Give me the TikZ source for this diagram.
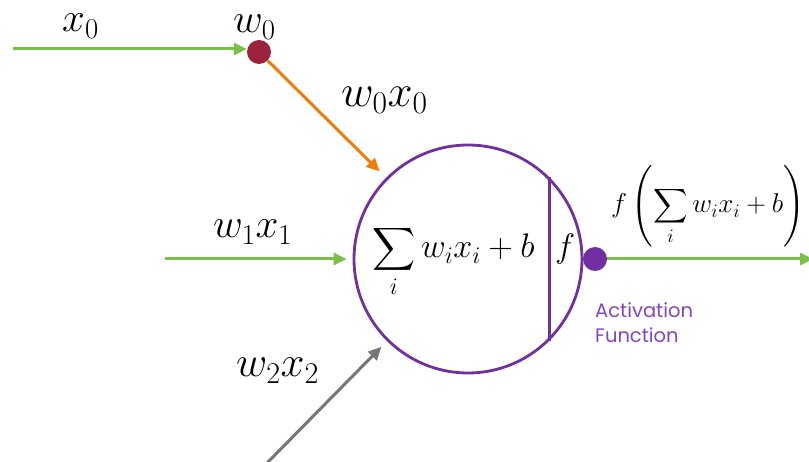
\RequirePackage{fix-cm}
\documentclass[tikz,border=0pt]{standalone}
\usepackage{amsmath}
\DeclareFontShape{OMX}{cmex}{m}{n}{<->cmex10}{}
\usepackage{fontspec}
\newfontfamily\actfont{Poppins}
\usetikzlibrary{arrows.meta}
\definecolor{purp}{RGB}{112,48,160}
\definecolor{actpurp}{RGB}{130,70,190}
\definecolor{grn}{RGB}{122,192,72}
\definecolor{maroon}{RGB}{155,35,60}
\definecolor{orng}{RGB}{240,125,10}
\definecolor{gry}{RGB}{118,118,118}
\newcommand{\ssum}{\mathop{\vcenter{\hbox{\scalebox{0.88}{$\displaystyle\sum$}}}}\limits}
\begin{document}
\begin{tikzpicture}[x=1pt,y=-1pt,
  lbl/.style={inner sep=0pt, anchor=base west, font=\fontsize{41}{44}\selectfont},
  inner/.style={inner sep=0pt, font=\fontsize{34}{36}\selectfont},
  conn/.style={line width=3pt, -{Triangle[length=13pt,width=12pt]}},
  dot/.style={circle, inner sep=0pt, minimum size=24pt},
]
\useasboundingbox (0,0) rectangle (809,462);
% neuron
\node[circle, draw=purp, line width=2.8pt, minimum size=228pt, inner sep=0pt] (neuron) at (468,259) {};
\draw[purp, line width=2.8pt] (neuron.45.4) -- (neuron.-45.4);
\node[inner, anchor=base west] (sum) at (372,258) {$\displaystyle\ssum_i w_i x_i + b$};
\node[inner, anchor=base west] (fin) at (555,258) {$f$};
% dots
\node[dot, fill=maroon] (w0dot) at (259,52) {};
\node[dot, fill=purp] (pdot) at (595,259) {};
% coordinates
\coordinate (x0s) at (13,49);
\coordinate (w1s) at (165,259);
\coordinate (w2s) at (267,463);
\coordinate (outend) at (813,259);
% connectors
\draw[conn, grn] (x0s) -- (x0s -| w0dot.west);
\draw[conn, orng, shorten >=9pt] (w0dot) -- (neuron);
\draw[conn, grn, shorten >=6pt] (w1s) -- (neuron.west);
\draw[conn, gry, shorten >=8pt] (w2s) -- (neuron);
\draw[conn, grn] (pdot) -- (outend);
% labels
\node[lbl] (lx0) at (62,32) {$x_0$};
\node[lbl] (lw0) at (233,33) {$w_0$};
\node[lbl, font=\fontsize{45}{48}\selectfont] (lw0x0) at (341,107) {$w_0x_0$};
\node[lbl] (lw1x1) at (213,238) {$w_1x_1$};
\node[lbl, font=\fontsize{43}{46}\selectfont] (lw2x2) at (236,377) {$w_2x_2$};
\node[inner sep=0pt, anchor=base west, font=\fontsize{27.2}{30}\selectfont] (lout) at (611,213)
  {$f\left(\displaystyle\ssum_i w_i x_i + b\right)$};
\node[inner sep=0pt, anchor=north west, align=left, text=actpurp, font=\actfont\fontsize{19.5}{25}\selectfont] (act) at (595,302)
  {Activation\\Function};
\end{tikzpicture}
\end{document}
